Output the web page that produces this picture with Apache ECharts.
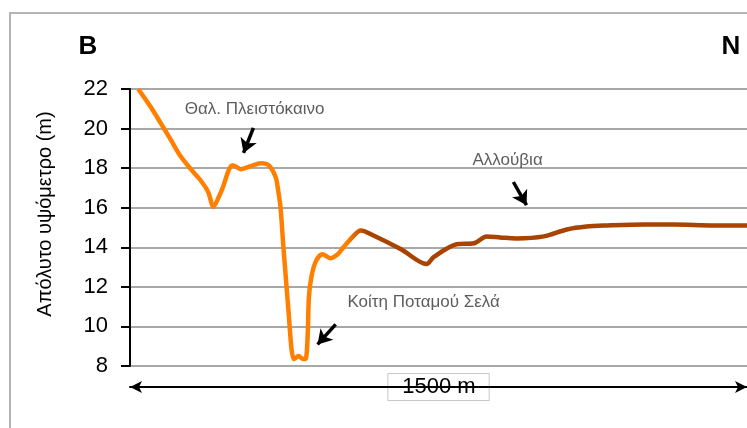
<!DOCTYPE html>
<html>
<head>
<meta charset="utf-8">
<script src="https://cdn.jsdelivr.net/npm/echarts@6/dist/echarts.min.js"></script>
<style>
  html, body { margin: 0; padding: 0; background: #fff; }
  #chart { width: 747px; height: 428px; }
</style>
</head>
<body>
<div id="chart"></div>
<script>
// Topographic profile B–N: distance along the section (m) and absolute elevation (m)
const distance = [20, 50, 74, 100, 123, 150, 171, 190, 203, 215, 227, 240, 249, 260, 269, 293, 318, 337, 354, 360, 366, 373, 386, 393, 399, 410, 421, 428, 432, 435, 441, 452, 468, 487, 505, 519, 540, 561, 592, 659, 721, 738, 794, 836, 867, 900, 940, 1006, 1062, 1110, 1159, 1250, 1322, 1420, 1500];
const elevation = [22.0, 21.1, 20.3, 19.4, 18.6, 17.9, 17.4, 16.8, 16.05, 16.5, 17.1, 17.9, 18.15, 18.05, 17.95, 18.1, 18.25, 18.15, 17.55, 16.9, 16.0, 14.0, 10.6, 8.8, 8.35, 8.5, 8.35, 8.4, 9.6, 11.5, 12.5, 13.3, 13.65, 13.45, 13.65, 14.0, 14.5, 14.85, 14.6, 13.9, 13.15, 13.5, 14.15, 14.2, 14.55, 14.5, 14.45, 14.55, 14.9, 15.05, 15.1, 15.15, 15.15, 15.1, 15.1];

const yTicks = { min: 8, max: 22, step: 2 };
const xRange = { min: 0, max: 1500 };

// Annotation labels [distance, elevation, text]
const noteLabels = [
  [303, 20.95, 'Θαλ. Πλειστόκαινο'],
  [918, 18.41, 'Αλλούβια'],
  [714, 11.21, 'Κοίτη Ποταμού Σελά']
];
// Annotation arrows [fromDistance, fromElevation, toDistance, toElevation]
const noteArrows = [
  [300, 20.04, 276, 18.77],
  [932, 17.30, 964, 16.13],
  [500, 10.10, 456, 9.09]
];

const axisTitle = 'Απόλυτο υψόμετρο (m)';
const scaleLabel = '1500 m';
const endLabels = ['B', 'N'];

const FONT = '"Liberation Sans", Arial, sans-serif';
const chart = echarts.init(document.getElementById('chart'), null, { renderer: 'canvas' });

chart.setOption({
  backgroundColor: '#ffffff',
  animation: false,
  grid: { left: 130, right: 0, top: 89, bottom: 62 },
  xAxis: {
    type: 'value',
    min: xRange.min,
    max: xRange.max,
    offset: 21,
    axisLine: {
      show: true,
      symbol: ['arrow', 'arrow'],
      symbolSize: [9, 12],
      lineStyle: { color: '#000', width: 2 }
    },
    axisTick: { show: false },
    axisLabel: { show: false },
    splitLine: { show: false },
    name: scaleLabel,
    nameLocation: 'middle',
    nameGap: 0,
    nameTextStyle: {
      fontFamily: FONT,
      fontSize: 22,
      color: '#000',
      verticalAlign: 'middle',
      backgroundColor: '#fff',
      borderColor: '#c8c8c8',
      borderWidth: 1,
      padding: [3, 13, 1, 14]
    }
  },
  yAxis: {
    type: 'value',
    min: yTicks.min,
    max: yTicks.max,
    interval: yTicks.step,
    axisLine: { show: true, lineStyle: { color: '#000', width: 2 } },
    axisTick: { show: true, length: 9, lineStyle: { color: '#000', width: 2 } },
    axisLabel: { fontFamily: FONT, fontSize: 22, color: '#000', margin: 22 },
    splitLine: { show: true, lineStyle: { color: '#a8a8a8', width: 2 } }
  },
  series: [
    {
      type: 'line',
      data: distance.map((d, i) => [d, elevation[i]]),
      smooth: 0.3,
      showSymbol: false,
      symbol: 'none',
      z: 3,
      lineStyle: {
        width: 4.5,
        color: {
          type: 'linear', x: 0, y: 0, x2: 1, y2: 0,
          colorStops: [
            { offset: 0, color: '#ff7f00' },
            { offset: 0.345, color: '#ff7f00' },
            { offset: 0.375, color: '#a84300' },
            { offset: 1, color: '#a84300' }
          ]
        }
      },
      markLine: {
        silent: true,
        symbol: ['none', 'arrow'],
        symbolSize: [13, 14],
        label: { show: false },
        lineStyle: { color: '#000', width: 3.5, type: 'solid' },
        data: noteArrows.map(a => [{ coord: [a[0], a[1]] }, { coord: [a[2], a[3]] }])
      }
    },
    {
      type: 'scatter',
      data: noteLabels,
      symbolSize: 0,
      silent: true,
      z: 4,
      label: {
        show: true,
        position: 'inside',
        formatter: p => p.data[2],
        fontFamily: FONT,
        fontSize: 17,
        color: '#333'
      }
    }
  ],
  graphic: [
    {
      type: 'rect',
      shape: { x: 10, y: 13, width: 760, height: 440 },
      style: { fill: 'none', stroke: '#b4b4b4', lineWidth: 2 },
      silent: true
    },
    {
      type: 'text',
      x: 45, y: 214,
      rotation: Math.PI / 2,
      style: {
        text: axisTitle,
        fontFamily: FONT,
        fontSize: 20,
        fill: '#000',
        align: 'center',
        verticalAlign: 'middle'
      }
    },
    {
      type: 'text', x: 88, y: 47,
      style: { text: endLabels[0], fontFamily: FONT, fontSize: 26, fontWeight: 'bold', fill: '#000', align: 'center', verticalAlign: 'middle' }
    },
    {
      type: 'text', x: 731, y: 47,
      style: { text: endLabels[1], fontFamily: FONT, fontSize: 26, fontWeight: 'bold', fill: '#000', align: 'center', verticalAlign: 'middle' }
    }
  ]
});
</script>
</body>
</html>
